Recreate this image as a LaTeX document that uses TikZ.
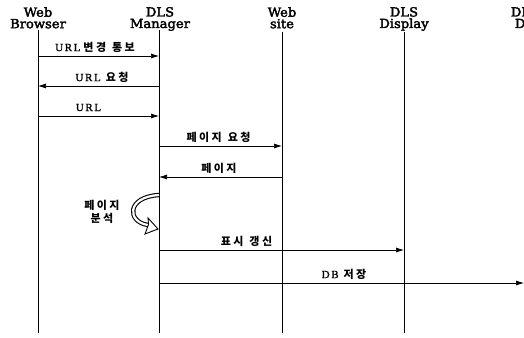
\documentclass[tikz,border=0pt]{standalone}
\usepackage{fontspec}
\setmainfont{DejaVu Serif}
\newfontfamily\hdr{DejaVu Serif}[FakeBold=2.5, FakeStretch=1.05]
\newfontfamily\lat{Liberation Serif}[LetterSpace=15, FakeBold=1.5]
\newfontfamily\kr{Noto Sans CJK KR}[LetterSpace=22]
\newcommand{\ws}{\hspace{6pt}}
\newcommand{\urlf}{\lat\fontsize{11}{12}\selectfont}
\usetikzlibrary{arrows.meta}
\begin{document}
\begin{tikzpicture}[x=1pt,y=-1pt,
  head/.style={font=\hdr\fontsize{12.5}{11.5}\selectfont, align=center, inner sep=0pt, anchor=north},
  life/.style={line width=0.8pt},
  msg/.style={line width=0.7pt, -{Latex[length=8pt,width=5pt]}},
  lbl/.style={font=\fontsize{11}{12}\selectfont, inner sep=0pt}]
\useasboundingbox (0,0) rectangle (524,337);
\clip (0,0) rectangle (524,337);
% headers
\node[head] (hWB) at (38,7) {Web\\Browser};
\node[head] (hDM) at (160,7) {DLS\\Manager};
\node[head] (hWS) at (282,7) {Web\\site};
\node[head] (hDD) at (404,7) {DLS\\Display};
\node[head] (hDB) at (525,7) {DLS\\DB};
% lifeline ends
\coordinate (wbT) at (38,30); \coordinate (wbB) at (38,333);
\coordinate (dmT) at (159,30); \coordinate (dmB) at (159,333);
\coordinate (wsT) at (282,32); \coordinate (wsB) at (282,333);
\coordinate (ddT) at (404,32); \coordinate (ddB) at (404,333);
\coordinate (dbE) at (524,283);
\draw[life] (wbT) -- (wbB);
\draw[life] (dmT) -- (dmB);
\draw[life] (wsT) -- (wsB);
\draw[life] (ddT) -- (ddB);
% messages
\coordinate (m1a) at (38,56);  \coordinate (m1b) at (159,56);
\coordinate (m2a) at (159,86); \coordinate (m2b) at (38,86);
\coordinate (m3a) at (38,116); \coordinate (m3b) at (159,116);
\coordinate (m4a) at (159,146); \coordinate (m4b) at (282,146);
\coordinate (m5a) at (282,177); \coordinate (m5b) at (159,177);
\coordinate (m7a) at (159,250); \coordinate (m7b) at (404,250);
\coordinate (m8a) at (159,283);
\draw[msg] (m1a) -- (m1b);
\draw[msg] (m2a) -- (m2b);
\draw[msg] (m3a) -- (m3b);
\draw[msg] (m4a) -- (m4b);
\draw[msg] (m5a) -- (m5b);
\draw[msg] (m7a) -- (m7b);
\draw[msg] (m8a) -- (dbE);
\node[lbl] (l1) at (95,47) {{\urlf URL}\hspace{3pt}{\kr\bfseries 변경}\ws{\kr\bfseries 통보}};
\node[lbl] (l2) at (102,77) {{\urlf URL}\hspace{5pt}{\kr\bfseries 요청}};
\node[lbl] (l3) at (88.5,107.5) {\urlf URL};
\node[lbl] (l4) at (218.5,137) {{\kr\bfseries 페이지}\ws{\kr\bfseries 요청}};
\node[lbl] (l5) at (219,168) {\kr\bfseries 페이지};
\node[lbl, align=center, font=\fontsize{11}{12.5}\selectfont] (l6) at (102,212) {\kr\bfseries 페이지\\\kr\bfseries 분석};
\node[lbl] (l7) at (246.5,241) {{\kr\bfseries 표시}\ws{\kr\bfseries 갱신}};
\node[lbl] (l8) at (344,274) {{\urlf DB}\hspace{5pt}{\kr\bfseries 저장}};
% self arrow (hollow)
\coordinate (sA) at (159,195);
\coordinate (sB) at (148,225);
\draw[line width=4.4pt] (sA) .. controls (126,197) and (127,222) .. (sB);
\draw[line width=2.2pt, white] (sA) .. controls (126,197) and (127,222) .. (sB);
\draw[line width=0.9pt, fill=white, line join=miter] (158,229) -- (148,218) -- (148.5,224.5) -- (145,234) -- cycle;
\end{tikzpicture}
\end{document}
